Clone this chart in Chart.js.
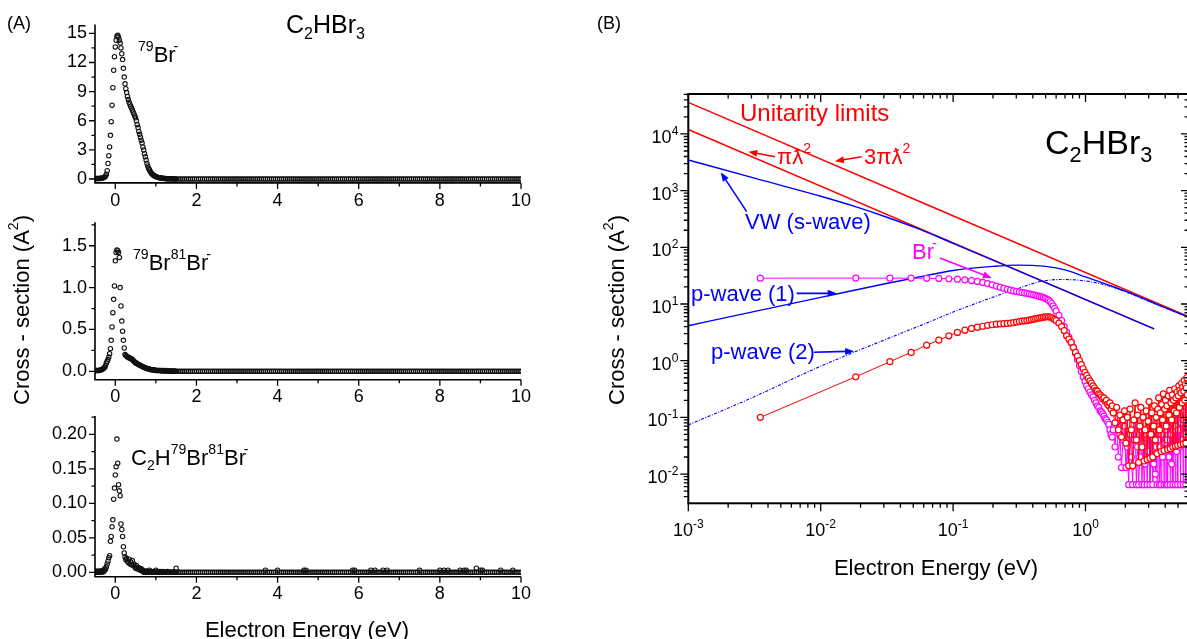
<!DOCTYPE html>
<html>
<head>
<meta charset="utf-8">
<script src="https://cdn.jsdelivr.net/npm/chart.js@4.4.1/dist/chart.umd.min.js"></script>
<style>
  body { margin: 0; background: #fff; }
  #page { position: relative; width: 1187px; height: 639px; overflow: hidden; background: #fff;
          font-family: "Liberation Sans", Arial, sans-serif; color: #000; }
  canvas { position: absolute; left: 0; top: 0; }
  .lbl { position: absolute; white-space: nowrap; line-height: 1; }
  .lbl sup { font-size: 0.64em; vertical-align: 0.75em; line-height: 0; }
  .lbl sub { font-size: 0.64em; vertical-align: -0.35em; line-height: 0; }
  .lbl sup.minus { margin-left: -0.15em; }
  .mid { transform: translate(-50%, -50%); }
  .rot { transform: translate(-50%, -50%) rotate(-90deg); }
</style>
</head>
<body>
<div id="page">
  <canvas id="a1" width="1187" height="639"></canvas>
  <canvas id="a2" width="1187" height="639"></canvas>
  <canvas id="a3" width="1187" height="639"></canvas>
  <canvas id="b" width="1200" height="639"></canvas>

  <div class="lbl" style="left:7px;top:14px;font-size:18px">(A)</div>
  <div class="lbl" style="left:286px;top:12px;font-size:25px">C<sub>2</sub>HBr<sub>3</sub></div>
  <div class="lbl" style="left:138px;top:44px;font-size:22px"><sup>79</sup>Br<sup class="minus">-</sup></div>
  <div class="lbl" style="left:133px;top:252px;font-size:22px"><sup>79</sup>Br<sup>81</sup>Br<sup class="minus">-</sup></div>
  <div class="lbl" style="left:131px;top:447px;font-size:22px">C<sub>2</sub>H<sup>79</sup>Br<sup>81</sup>Br<sup class="minus">-</sup></div>
  <div class="lbl rot" style="left:22px;top:310px;font-size:22px">Cross - section (A<sup>2</sup>)</div>
  <div class="lbl mid" style="left:307px;top:630px;font-size:22px">Electron Energy (eV)</div>

  <div class="lbl" style="left:597px;top:14px;font-size:18px">(B)</div>
  <div class="lbl" style="left:740px;top:101px;font-size:24px;color:#ff0000">Unitarity limits</div>
  <div class="lbl" style="left:777px;top:146px;font-size:22px;color:#ff0000">&pi;&#411;<sup>2</sup></div>
  <div class="lbl" style="left:864px;top:146px;font-size:22px;color:#ff0000">3&pi;&#411;<sup>2</sup></div>
  <div class="lbl" style="left:745px;top:211px;font-size:22px;color:#0000ff">VW (s-wave)</div>
  <div class="lbl" style="left:912px;top:241px;font-size:22px;color:#ff00ff">Br<sup class="minus">-</sup></div>
  <div class="lbl" style="left:691px;top:283px;font-size:22px;color:#0000ff">p-wave (1)</div>
  <div class="lbl" style="left:711px;top:341px;font-size:22px;color:#0000ff">p-wave (2)</div>
  <div class="lbl" style="left:1045px;top:125px;font-size:34px">C<sub>2</sub>HBr<sub>3</sub></div>
  <div class="lbl rot" style="left:617px;top:310px;font-size:22px">Cross - section (A<sup>2</sup>)</div>
  <div class="lbl mid" style="left:936px;top:568px;font-size:22px">Electron Energy (eV)</div>
</div>

<script>
// ---- (A) ion yields on a linear energy scale ----
const energyA = [
  -0.5,-0.48,-0.46,-0.44,-0.42,-0.4,-0.38,-0.36,-0.34,-0.32,
  -0.3,-0.28,-0.26,-0.24,-0.22,-0.2,-0.18,-0.16,-0.14,-0.12,
  -0.1,-0.08,-0.06,-0.04,-0.02,0,0.02,0.04,0.06,0.08,
  0.1,0.12,0.14,0.16,0.18,0.2,0.22,0.24,0.26,0.28,
  0.3,0.32,0.34,0.36,0.38,0.4,0.42,0.44,0.46,0.48,
  0.5,0.52,0.54,0.56,0.58,0.6,0.62,0.64,0.66,0.68,
  0.7,0.72,0.74,0.76,0.78,0.8,0.82,0.84,0.86,0.88,
  0.9,0.92,0.94,0.96,0.98,1,1.02,1.04,1.06,1.08,
  1.1,1.12,1.14,1.16,1.18,1.2,1.22,1.24,1.26,1.28,
  1.3,1.32,1.34,1.36,1.38,1.4,1.42,1.44,1.46,1.48,
  1.5
];
const tailEnergyA = [
  1.55,1.6,1.65,1.7,1.75,1.8,1.85,1.9,1.95,2,
  2.05,2.1,2.15,2.2,2.25,2.3,2.35,2.4,2.45,2.5,
  2.55,2.6,2.65,2.7,2.75,2.8,2.85,2.9,2.95,3,
  3.05,3.1,3.15,3.2,3.25,3.3,3.35,3.4,3.45,3.5,
  3.55,3.6,3.65,3.7,3.75,3.8,3.85,3.9,3.95,4,
  4.05,4.1,4.15,4.2,4.25,4.3,4.35,4.4,4.45,4.5,
  4.55,4.6,4.65,4.7,4.75,4.8,4.85,4.9,4.95,5,
  5.05,5.1,5.15,5.2,5.25,5.3,5.35,5.4,5.45,5.5,
  5.55,5.6,5.65,5.7,5.75,5.8,5.85,5.9,5.95,6,
  6.05,6.1,6.15,6.2,6.25,6.3,6.35,6.4,6.45,6.5,
  6.55,6.6,6.65,6.7,6.75,6.8,6.85,6.9,6.95,7,
  7.05,7.1,7.15,7.2,7.25,7.3,7.35,7.4,7.45,7.5,
  7.55,7.6,7.65,7.7,7.75,7.8,7.85,7.9,7.95,8,
  8.05,8.1,8.15,8.2,8.25,8.3,8.35,8.4,8.45,8.5,
  8.55,8.6,8.65,8.7,8.75,8.8,8.85,8.9,8.95,9,
  9.05,9.1,9.15,9.2,9.25,9.3,9.35,9.4,9.45,9.5,
  9.55,9.6,9.65,9.7,9.75,9.8,9.85,9.9,9.95,10
];
const sigmaBr79 = [
  0.05,0.05,0.05,0.05,0.05,0.06,0.06,0.07,0.08,0.1,
  0.12,0.16,0.22,0.32,0.5,0.85,1.6,2.4,3.3,4.5,
  5.9,7.6,9.4,11.2,12.6,13.6,14.3,14.7,14.8,14.6,
  14.3,14.0,13.5,12.9,12.3,11.4,10.5,9.8,9.3,8.9,
  8.5,8.2,7.9,7.7,7.5,7.3,7.1,6.9,6.7,6.5,
  6.3,6.0,5.6,5.3,4.9,4.6,4.3,4.0,3.7,3.3,
  3.0,2.6,2.3,1.95,1.6,1.35,1.1,0.95,0.8,0.65,
  0.55,0.47,0.4,0.34,0.29,0.25,0.21,0.18,0.16,0.14,
  0.12,0.1,0.09,0.08,0.07,0.06,0.05,0.05,0.04,0.04,
  0.03,0.03,0.03,0.02,0.02,0.02,0.02,0.01,0.01,0.01,
  0.01
];
const sigmaBr79Br81 = [
  0.01,0.01,0.01,0.01,0.01,0.01,0.012,0.015,0.02,0.025,
  0.03,0.04,0.05,0.07,0.1,0.12,0.14,0.17,0.21,0.27,
  0.37,0.53,0.7,0.86,1.02,1.32,1.42,1.45,1.44,1.42,
  1.36,1.0,0.78,0.6,0.48,0.37,0.28,0.2,0.19,0.18,
  0.17,0.17,0.16,0.16,0.15,0.15,0.14,0.13,0.12,0.11,
  0.1,0.1,0.09,0.085,0.08,0.075,0.07,0.065,0.06,0.055,
  0.05,0.045,0.04,0.04,0.035,0.03,0.03,0.025,0.025,0.02,
  0.02,0.02,0.015,0.015,0.015,0.01,0.01,0.01,0.01,0.01,
  0.01,0.01,0.005,0.01,0.005,0.01,0.005,0.005,0.01,0.005,
  0.005,0.005,0.005,0,0.005,0,0.005,0,0.005,0,
  0
];
const sigmaC2HBr2 = [
  0,0.002,0,0.001,0,0.002,0,0.001,0.002,0,
  0.003,0.001,0.005,0.004,0.008,0.012,0.016,0.021,0.024,0.045,
  0.052,0.066,0.076,0.106,0.122,0.141,0.153,0.193,0.158,0.127,
  0.118,0.111,0.07,0.062,0.052,0.037,0.028,0.022,0.018,0.02,
  0.016,0.014,0.019,0.012,0.015,0.011,0.017,0.01,0.012,0.008,
  0.006,0.01,0.005,0.007,0.004,0.006,0.003,0.005,0.002,0.003,
  0,0.001,0,0.002,0,0.001,0,0.003,0,0.001,
  0,0,0.001,0,0,0.003,0,0.001,0,0,
  0.001,0,0,0,0.001,0,0,0,0,0.001,
  0,0,0,0,0,0,0,0,0,0,
  0
];
// isolated counts above the C2HBr2- baseline
const strayEnergy = [1.5, 3.7, 4.0, 4.65, 4.7, 5.85, 5.9, 6.3, 6.4, 6.6, 6.7, 7.5, 8.0, 8.1, 8.2, 8.5, 8.6, 8.65, 8.9, 9.0, 9.05, 9.5, 9.8];
const straySigma = [0.006, 0.003, 0.003, 0.003, 0.003, 0.003, 0.003, 0.003, 0.003, 0.003, 0.003, 0.003, 0.003, 0.003, 0.003, 0.003, 0.003, 0.003, 0.006, 0.003, 0.003, 0.003, 0.003];

const xTicksA = [0, 2, 4, 6, 8, 10];
const yTicksA1 = [0, 3, 6, 9, 12, 15];
const yTicksA2 = [0, 0.5, 1.0, 1.5];
const yTicksA3 = [0, 0.05, 0.10, 0.15, 0.20];

// ---- (B) log-log cross sections ----
const energyLow = [
  0.0035,0.0184,0.0333,0.0482,0.0631,0.078,0.0929,0.1078,0.1227,0.1376,
  0.1525,0.1674,0.1823,0.1972,0.2121,0.227,0.2419,0.2568,0.2717,0.2866,
  0.3015,0.3164,0.3313,0.3462,0.3611,0.376,0.3909,0.4058,0.4207,0.4356,
  0.4505,0.4654,0.4803,0.4952,0.5101,0.525,0.5399,0.5548,0.5697,0.5846
];
const energyMid = [
  0.6,0.63,0.66,0.69,0.72,0.75,0.78,0.81,0.84,0.87,
  0.9,0.93,0.96,0.99,1.02,1.05,1.08,1.11,1.14,1.17,
  1.2,1.23,1.26,1.29,1.32,1.35,1.38,1.41,1.44,1.47,
  1.5,1.53,1.56,1.59
];
const energyHigh = [
  1.62,1.67,1.72,1.77,1.82,1.87,1.92,1.97,2.02,2.07,
  2.12,2.17,2.22,2.27,2.32,2.37,2.42,2.47,2.52,2.57,
  2.62,2.67,2.72,2.77,2.82,2.87,2.92,2.97,3.02,3.07,
  3.12,3.17,3.22,3.27,3.32,3.37,3.42,3.47,3.52,3.57,
  3.62,3.67,3.72,3.77,3.82,3.87,3.92,3.97,4.02,4.07,
  4.12,4.17,4.22,4.27,4.32,4.37,4.42,4.47,4.52,4.57,
  4.62,4.67,4.72,4.77,4.82,4.87,4.92,4.97,5.02,5.07,
  5.12,5.17,5.22,5.27,5.32,5.37,5.42,5.47,5.52,5.57,
  5.62,5.67,5.72,5.77,5.82,5.87
];
const brLow = [
  28.5,28.6,28.5,28.6,28.4,28.2,27.9,27.4,26.7,25.9,
  25.0,24.0,22.9,21.8,20.7,19.7,18.8,18.1,17.5,17.0,
  16.6,16.3,16.0,15.7,15.4,15.1,14.8,14.5,14.2,13.9,
  13.6,13.3,13.0,12.6,12.2,11.7,11.0,10.2,9.3,8.4
];
const brMid = [
  7.5,6.3,5.1,4.0,3.2,2.6,2.1,1.7,1.35,1.05,
  0.82,0.65,0.52,0.43,0.36,0.32,0.28,0.25,0.23,0.2,
  0.18,0.16,0.15,0.13,0.125,0.115,0.105,0.095,0.09,0.082,
  0.075,0.06,0.05,0.045
];
const brHigh = [
  0.06,0.03,0.08,0.02,0.05,0.013,0.04,0.07,0.013,0.03,
  0.0065,0.05,0.02,0.0065,0.04,0.09,0.0065,0.03,0.0065,0.02,
  0.06,0.0065,0.035,0.0065,0.015,0.05,0.0065,0.025,0.08,0.0065,
  0.02,0.045,0.0065,0.015,0.06,0.01,0.03,0.0065,0.04,0.07,
  0.0065,0.03,0.0065,0.05,0.02,0.08,0.0065,0.035,0.06,0.0065,
  0.04,0.0065,0.07,0.02,0.09,0.0065,0.05,0.015,0.08,0.0065,
  0.06,0.03,0.1,0.0065,0.07,0.025,0.09,0.0065,0.06,0.11,
  0.03,0.09,0.0065,0.08,0.12,0.04,0.1,0.0065,0.09,0.13,
  0.05,0.11,0.0065,0.1,0.15,0.07
];
const anionLow = [
  0.1,0.52,0.96,1.4,1.88,2.3,2.75,3.15,3.45,3.7,
  3.9,4.05,4.2,4.3,4.4,4.45,4.5,4.55,4.6,4.7,
  4.8,4.9,5.0,5.05,5.1,5.2,5.3,5.4,5.5,5.6,
  5.7,5.75,5.85,5.9,5.95,5.95,5.9,5.75,5.55,5.35
];
const anionMid = [
  5.1,4.6,4.0,3.4,2.75,2.4,2.1,1.7,1.4,1.2,
  1.0,0.85,0.72,0.62,0.55,0.49,0.44,0.4,0.36,0.33,
  0.3,0.29,0.26,0.25,0.23,0.21,0.22,0.19,0.2,0.17,
  0.16,0.18,0.14,0.16
];
const anionHigh = [
  0.12,0.08,0.15,0.06,0.11,0.045,0.09,0.13,0.035,0.1,
  0.014,0.14,0.06,0.014,0.09,0.18,0.04,0.11,0.016,0.07,
  0.15,0.03,0.1,0.017,0.06,0.13,0.018,0.085,0.19,0.019,
  0.05,0.12,0.02,0.07,0.16,0.04,0.1,0.023,0.14,0.22,
  0.06,0.12,0.025,0.17,0.09,0.26,0.026,0.14,0.2,0.07,
  0.16,0.027,0.24,0.11,0.3,0.028,0.18,0.09,0.25,0.03,
  0.2,0.13,0.32,0.031,0.22,0.12,0.28,0.032,0.24,0.36,
  0.15,0.3,0.033,0.27,0.4,0.18,0.34,0.034,0.29,0.45,
  0.2,0.38,0.035,0.33,0.5,0.25
];

// unitarity limits: pi*lambdabar^2 and 3*pi*lambdabar^2
const unitE3 = [0.001, 6.05];
const threePiLambda2 = [35900, 5.93];
const unitE1 = [0.001, 3.3];
const piLambda2 = [11970, 3.63];
// Vogt-Wannier s-wave
const vwE = [0.001, 0.00316, 0.01, 0.0178, 0.0316, 0.0562, 0.1, 0.2, 0.5, 1, 2, 3.3];
const vwSigma = [3467, 1660, 794, 531, 339, 207, 117.5, 59.6, 23.9, 11.95, 5.98, 3.63];
// p-wave capture curves
const pWaveE = [0.001, 0.003, 0.01, 0.03, 0.06, 0.1, 0.2, 0.3, 0.5, 0.7, 1, 1.5, 2, 3, 4, 6.05];
const pWave1 = [4.14, 7.2, 13.1, 22.5, 31, 39, 46, 48.5, 46, 40, 30, 21.5, 16.8, 11.4, 8.6, 5.85];
const pWave2 = [0.0734, 0.22, 0.8, 2.3, 4.4, 7.2, 13.2, 18.3, 26, 27, 25.5, 20.8, 16.4, 11.2, 8.5, 5.82];

const FONT = '"Liberation Sans", Arial, sans-serif';
Chart.defaults.font.family = FONT;
Chart.defaults.color = '#000';
Chart.defaults.animation = false;

const W = 1187, H = 639;
const xy = (es, ss) => es.map((e, i) => ({x: e, y: ss[i]}));

// L-shaped axes with outward major/minor ticks
const axesA = {
  id: 'axesA',
  afterDraw(chart, args, o) {
    const {ctx, chartArea: a, scales: {x, y}} = chart;
    ctx.save();
    ctx.strokeStyle = '#000';
    ctx.lineWidth = 1.6;
    ctx.beginPath();
    ctx.moveTo(a.left, a.top);
    ctx.lineTo(a.left, a.bottom);
    ctx.lineTo(a.right, a.bottom);
    ctx.stroke();
    ctx.lineWidth = 1.3;
    ctx.beginPath();
    o.yTicks.forEach(v => {
      const p = y.getPixelForValue(v);
      ctx.moveTo(a.left, p); ctx.lineTo(a.left - 6, p);
      const m = y.getPixelForValue(v + o.yMinor);
      if (v + o.yMinor < y.max) { ctx.moveTo(a.left, m); ctx.lineTo(a.left - 3.5, m); }
    });
    xTicksA.forEach(v => {
      const p = x.getPixelForValue(v);
      ctx.moveTo(p, a.bottom); ctx.lineTo(p, a.bottom + 6);
      if (v + 1 < x.max) {
        const m = x.getPixelForValue(v + 1);
        ctx.moveTo(m, a.bottom); ctx.lineTo(m, a.bottom + 3.5);
      }
    });
    ctx.stroke();
    ctx.restore();
  }
};

const openCircle = {
  pointRadius: 2.2,
  pointBorderWidth: 1.1,
  pointBorderColor: '#111',
  pointBackgroundColor: 'rgba(255,255,255,0)'
};

function panelA(id, area, yMin, yMax, yTicks, yMinor, digits, points, extra) {
  const datasets = [Object.assign({data: points}, openCircle)];
  if (extra) datasets.push(Object.assign({data: extra}, openCircle));
  return new Chart(document.getElementById(id), {
    type: 'scatter',
    data: {datasets},
    plugins: [axesA],
    options: {
      responsive: false,
      events: [],
      layout: {padding: {left: area.left - 60, top: area.top, right: W - area.right, bottom: H - area.bottom - 30}},
      plugins: {legend: {display: false}, tooltip: {enabled: false}, axesA: {yTicks, yMinor}},
      scales: {
        x: {
          type: 'linear', min: -0.5, max: 10,
          afterBuildTicks: s => { s.ticks = xTicksA.map(v => ({value: v})); },
          afterFit: s => { s.height = 30; },
          grid: {display: false, drawTicks: false},
          border: {display: false},
          ticks: {padding: 7, autoSkip: false, maxRotation: 0, font: {size: 18}}
        },
        y: {
          type: 'linear', min: yMin, max: yMax,
          afterBuildTicks: s => { s.ticks = yTicks.map(v => ({value: v})); },
          afterFit: s => { s.width = 60; },
          grid: {display: false, drawTicks: false},
          border: {display: false},
          ticks: {padding: 8, autoSkip: false, font: {size: 18}, callback: v => v.toFixed(digits)}
        }
      }
    }
  });
}

const baseline = tailEnergyA.map(e => ({x: e, y: 0}));
panelA('a1', {left: 95, right: 521, top: 24.6, bottom: 182.9}, -0.4, 15.9, yTicksA1, 1.5, 0,
  xy(energyA, sigmaBr79).concat(baseline));
panelA('a2', {left: 95, right: 521, top: 222.3, bottom: 379.7}, -0.1, 1.78, yTicksA2, 0.25, 1,
  xy(energyA, sigmaBr79Br81).concat(baseline));
panelA('a3', {left: 95, right: 521, top: 416, bottom: 576.7}, -0.0064, 0.2265, yTicksA3, 0.025, 2,
  xy(energyA, sigmaC2HBr2).concat(baseline), xy(strayEnergy, straySigma));

// annotation arrows for (B), anchored in data coordinates: [fromE, fromSigma, toE, toSigma, colour]
const arrowsB = [
  [0.00452, 3960, 0.00284, 4850, '#ff0000'],
  [0.0204, 3960, 0.0128, 3300, '#ff0000'],
  [0.00276, 425, 0.00176, 2100, '#0000ff'],
  [0.0796, 64.5, 0.196, 28.6, '#ff00ff'],
  [0.00658, 15.4, 0.0132, 15.4, '#0000ff'],
  [0.00889, 1.41, 0.0179, 1.47, '#0000ff']
];

function logTicks(min, max) {
  const out = [];
  for (let d = Math.floor(Math.log10(min)); d <= Math.ceil(Math.log10(max)); d++) {
    for (let k = 1; k <= 9; k++) {
      const v = k * Math.pow(10, d);
      if (v >= min * 0.999 && v <= max * 1.001) out.push([v, k === 1, d]);
    }
  }
  return out;
}

function powLabel(ctx, exp, x, y, align) {
  ctx.font = '18px ' + FONT;
  const wb = ctx.measureText('10').width;
  ctx.font = '12px ' + FONT;
  const ws = ctx.measureText(String(exp)).width;
  const left = align === 'right' ? x - wb - ws : x - (wb + ws) / 2;
  ctx.textAlign = 'left';
  ctx.textBaseline = 'alphabetic';
  ctx.font = '18px ' + FONT;
  ctx.fillText('10', left, y);
  ctx.font = '12px ' + FONT;
  ctx.fillText(String(exp), left + wb, y - 8);
}

function arrow(ctx, x0, y0, x1, y1, color) {
  const ang = Math.atan2(y1 - y0, x1 - x0), L = 9, hw = 3.5;
  ctx.strokeStyle = color;
  ctx.fillStyle = color;
  ctx.lineWidth = 1.6;
  ctx.beginPath();
  ctx.moveTo(x0, y0);
  ctx.lineTo(x1 - 0.8 * L * Math.cos(ang), y1 - 0.8 * L * Math.sin(ang));
  ctx.stroke();
  ctx.beginPath();
  ctx.moveTo(x1, y1);
  ctx.lineTo(x1 - L * Math.cos(ang) + hw * Math.sin(ang), y1 - L * Math.sin(ang) - hw * Math.cos(ang));
  ctx.lineTo(x1 - L * Math.cos(ang) - hw * Math.sin(ang), y1 - L * Math.sin(ang) + hw * Math.cos(ang));
  ctx.closePath();
  ctx.fill();
}

// boxed frame: ticks out on left/bottom, in on top/right, plus 10^n labels and arrows
const frameB = {
  id: 'frameB',
  afterDraw(chart) {
    const {ctx, chartArea: a, scales: {x, y}} = chart;
    ctx.save();
    ctx.strokeStyle = '#000';
    ctx.lineWidth = 2;
    ctx.strokeRect(a.left, a.top, a.right - a.left, a.bottom - a.top);
    ctx.lineWidth = 1.3;
    ctx.beginPath();
    logTicks(x.min, x.max).forEach(([v, major]) => {
      const p = x.getPixelForValue(v), len = major ? 8 : 4.5;
      ctx.moveTo(p, a.bottom); ctx.lineTo(p, a.bottom + len);
      ctx.moveTo(p, a.top); ctx.lineTo(p, a.top + len);
    });
    logTicks(y.min, y.max).forEach(([v, major]) => {
      const p = y.getPixelForValue(v), len = major ? 8 : 4.5;
      ctx.moveTo(a.left, p); ctx.lineTo(a.left - len, p);
      ctx.moveTo(a.right, p); ctx.lineTo(a.right - len, p);
    });
    ctx.stroke();
    ctx.fillStyle = '#000';
    logTicks(x.min, x.max).filter(t => t[1]).forEach(([v, , d]) => {
      powLabel(ctx, d, x.getPixelForValue(v), a.bottom + 33, 'center');
    });
    logTicks(y.min, y.max).filter(t => t[1]).forEach(([v, , d]) => {
      powLabel(ctx, d, a.left - 10, y.getPixelForValue(v) + 9, 'right');
    });
    arrowsB.forEach(([e0, s0, e1, s1, c]) => {
      arrow(ctx, x.getPixelForValue(e0), y.getPixelForValue(s0), x.getPixelForValue(e1), y.getPixelForValue(s1), c);
    });
    ctx.restore();
  }
};

const areaB = {left: 688.3, right: 1189, top: 94, bottom: 503.3};
const energyB = energyLow.concat(energyMid, energyHigh);
const sigmaBr = brLow.concat(brMid, brHigh);
const sigmaAnion = anionLow.concat(anionMid, anionHigh);

const curve = (data, color, width, order, dash) => ({
  data, borderColor: color, borderWidth: width, pointRadius: 0, order,
  borderDash: dash || [], cubicInterpolationMode: 'monotone', fill: false
});
const measured = (data, color, order) => ({
  data, borderColor: color, borderWidth: 1, order,
  pointRadius: 3, pointBorderWidth: 1.2, pointBorderColor: color, pointBackgroundColor: '#fff', fill: false
});

new Chart(document.getElementById('b'), {
  type: 'line',
  data: {
    datasets: [
      curve(xy(unitE3, threePiLambda2), '#ff0000', 1.4, 6),
      curve(xy(unitE1, piLambda2), '#ff0000', 1.4, 5),
      curve(xy(vwE, vwSigma), '#0000ff', 1.4, 4),
      curve(xy(pWaveE, pWave1), '#0000ff', 1.4, 3),
      curve(xy(pWaveE, pWave2), '#0000ff', 1.1, 2, [3, 1.5, 1, 1.5]),
      measured(xy(energyB, sigmaBr), '#ff00ff', 1),
      measured(xy(energyB, sigmaAnion), '#ff0000', 0)
    ]
  },
  plugins: [frameB],
  options: {
    responsive: false,
    events: [],
    layout: {padding: {left: areaB.left - 60, top: areaB.top, right: 1200 - areaB.right, bottom: H - areaB.bottom - 30}},
    plugins: {legend: {display: false}, tooltip: {enabled: false}},
    scales: {
      x: {
        type: 'logarithmic', min: 0.001, max: 6.05,
        afterFit: s => { s.height = 30; },
        grid: {display: false, drawTicks: false},
        border: {display: false},
        ticks: {display: false}
      },
      y: {
        type: 'logarithmic', min: 0.00305, max: 50600,
        afterFit: s => { s.width = 60; },
        grid: {display: false, drawTicks: false},
        border: {display: false},
        ticks: {display: false}
      }
    }
  }
});
</script>
</body>
</html>
